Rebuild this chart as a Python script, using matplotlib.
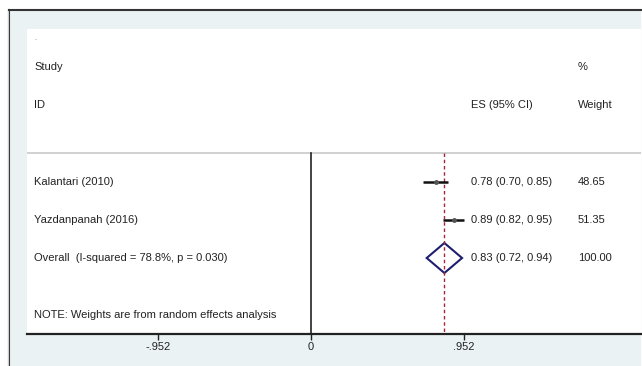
import matplotlib
matplotlib.use("Agg")
import matplotlib.pyplot as plt
from matplotlib.patches import Rectangle, Polygon

plt.rcParams['font.family'] = ['Liberation Sans', 'DejaVu Sans']

studies = ["Kalantari (2010)", "Yazdanpanah (2016)"]
es = [0.78, 0.89]
lo = [0.70, 0.82]
hi = [0.85, 0.95]
weights = ["48.65", "51.35"]
es_labels = ["0.78 (0.70, 0.85)", "0.89 (0.82, 0.95)"]
overall_label = "Overall  (I-squared = 78.8%, p = 0.030)"
overall_es = 0.83
overall_lo = 0.72
overall_hi = 0.94
overall_text = "0.83 (0.72, 0.94)"
overall_weight = "100.00"
note = "NOTE: Weights are from random effects analysis"
xticks = [-0.952, 0, 0.952]
xticklabels = ["-.952", "0", ".952"]

W, H = 642, 366
fig = plt.figure(figsize=(W / 100, H / 100), dpi=100)
fig.patch.set_facecolor("white")

# outer light-blue frame (background axes)
bg = fig.add_axes([0, 0, 1, 1], zorder=-5)
bg.set_xlim(0, W)
bg.set_ylim(H, 0)
bg.axis("off")
bg.add_patch(Rectangle((9, 10), 641 - 9, H - 10, facecolor="#eaf2f4", edgecolor="none"))
bg.plot([9, 9], [10, H], color="#333333", lw=1.5)
bg.plot([8, 8], [10, H], color="#cccccc", lw=0.8)
bg.plot([9, 641], [10, 10], color="#333333", lw=1.5)
bg.plot([641.5, 641.5], [10, H], color="#cccccc", lw=0.8)

left, right, top, bottom = 27, 641, 29, 334
ax = fig.add_axes([left / W, (H - bottom) / H, (right - left) / W, (bottom - top) / H], zorder=1)
ax.set_facecolor("white")

x0pix, scale = 311, 160.7
ax.set_xlim((left - x0pix) / scale, (right - x0pix) / scale)
row = 38.0
ax.set_ylim((bottom - 182) / row, (top - 182) / row)

for s in ["top", "right", "left"]:
    ax.spines[s].set_visible(False)
ax.spines["bottom"].set_linewidth(1.6)
ax.spines["bottom"].set_color("#222222")
ax.set_yticks([])
ax.set_xticks(xticks)
ax.set_xticklabels(xticklabels, fontsize=8, color="#222222")
ax.tick_params(axis="x", length=4, width=1, color="#222222", pad=2)

sep = (153 - 182) / row
ax.axhline(sep, color="#c8c8c8", lw=1.2)

ybot = (bottom - 182) / row
ax.plot([0, 0], [sep, ybot], color="#222222", lw=1.2)
ax.plot([overall_es, overall_es], [sep, ybot], color="#a02838", lw=1.0,
        linestyle=(0, (2.5, 2)))

for i in range(len(studies)):
    ax.plot([lo[i], hi[i]], [i, i], color="#111111", lw=1.8, solid_capstyle="butt")
    ax.plot(es[i], i, marker="o", color="#555555", markersize=2.5)

oy = 2
dh = 15 / row
ax.add_patch(Polygon([(overall_lo, oy), (overall_es, oy - dh), (overall_hi, oy), (overall_es, oy + dh)],
                     closed=True, facecolor="none", edgecolor="#1e1e6e", lw=1.5))

fs = 8
tc = "#222222"
tx = (34 - x0pix) / scale
ex = (471 - x0pix) / scale
wx = (578 - x0pix) / scale
ax.text(tx, (38 - 182) / row, ".", fontsize=5, va="center", color="#666666")
ax.text(tx, (67 - 182) / row, "Study", fontsize=fs, va="center", color=tc)
ax.text(tx, (105 - 182) / row, "ID", fontsize=fs, va="center", color=tc)
ax.text(ex, (105 - 182) / row, "ES (95% CI)", fontsize=fs, va="center", color=tc)
ax.text(wx, (67 - 182) / row, "%", fontsize=fs, va="center", color=tc)
ax.text(wx, (105 - 182) / row, "Weight", fontsize=fs, va="center", color=tc)

for i in range(len(studies)):
    ax.text(tx, i, studies[i], fontsize=fs, va="center", color=tc)
    ax.text(ex, i, es_labels[i], fontsize=fs, va="center", color=tc)
    ax.text(wx, i, weights[i], fontsize=fs, va="center", color=tc)
ax.text(tx, oy, overall_label, fontsize=fs, va="center", color=tc)
ax.text(ex, oy, overall_text, fontsize=fs, va="center", color=tc)
ax.text(wx, oy, overall_weight, fontsize=fs, va="center", color=tc)
ax.text(tx, (315 - 182) / row, note, fontsize=fs, va="center", color=tc)

fig.savefig("out.png", dpi=100)
